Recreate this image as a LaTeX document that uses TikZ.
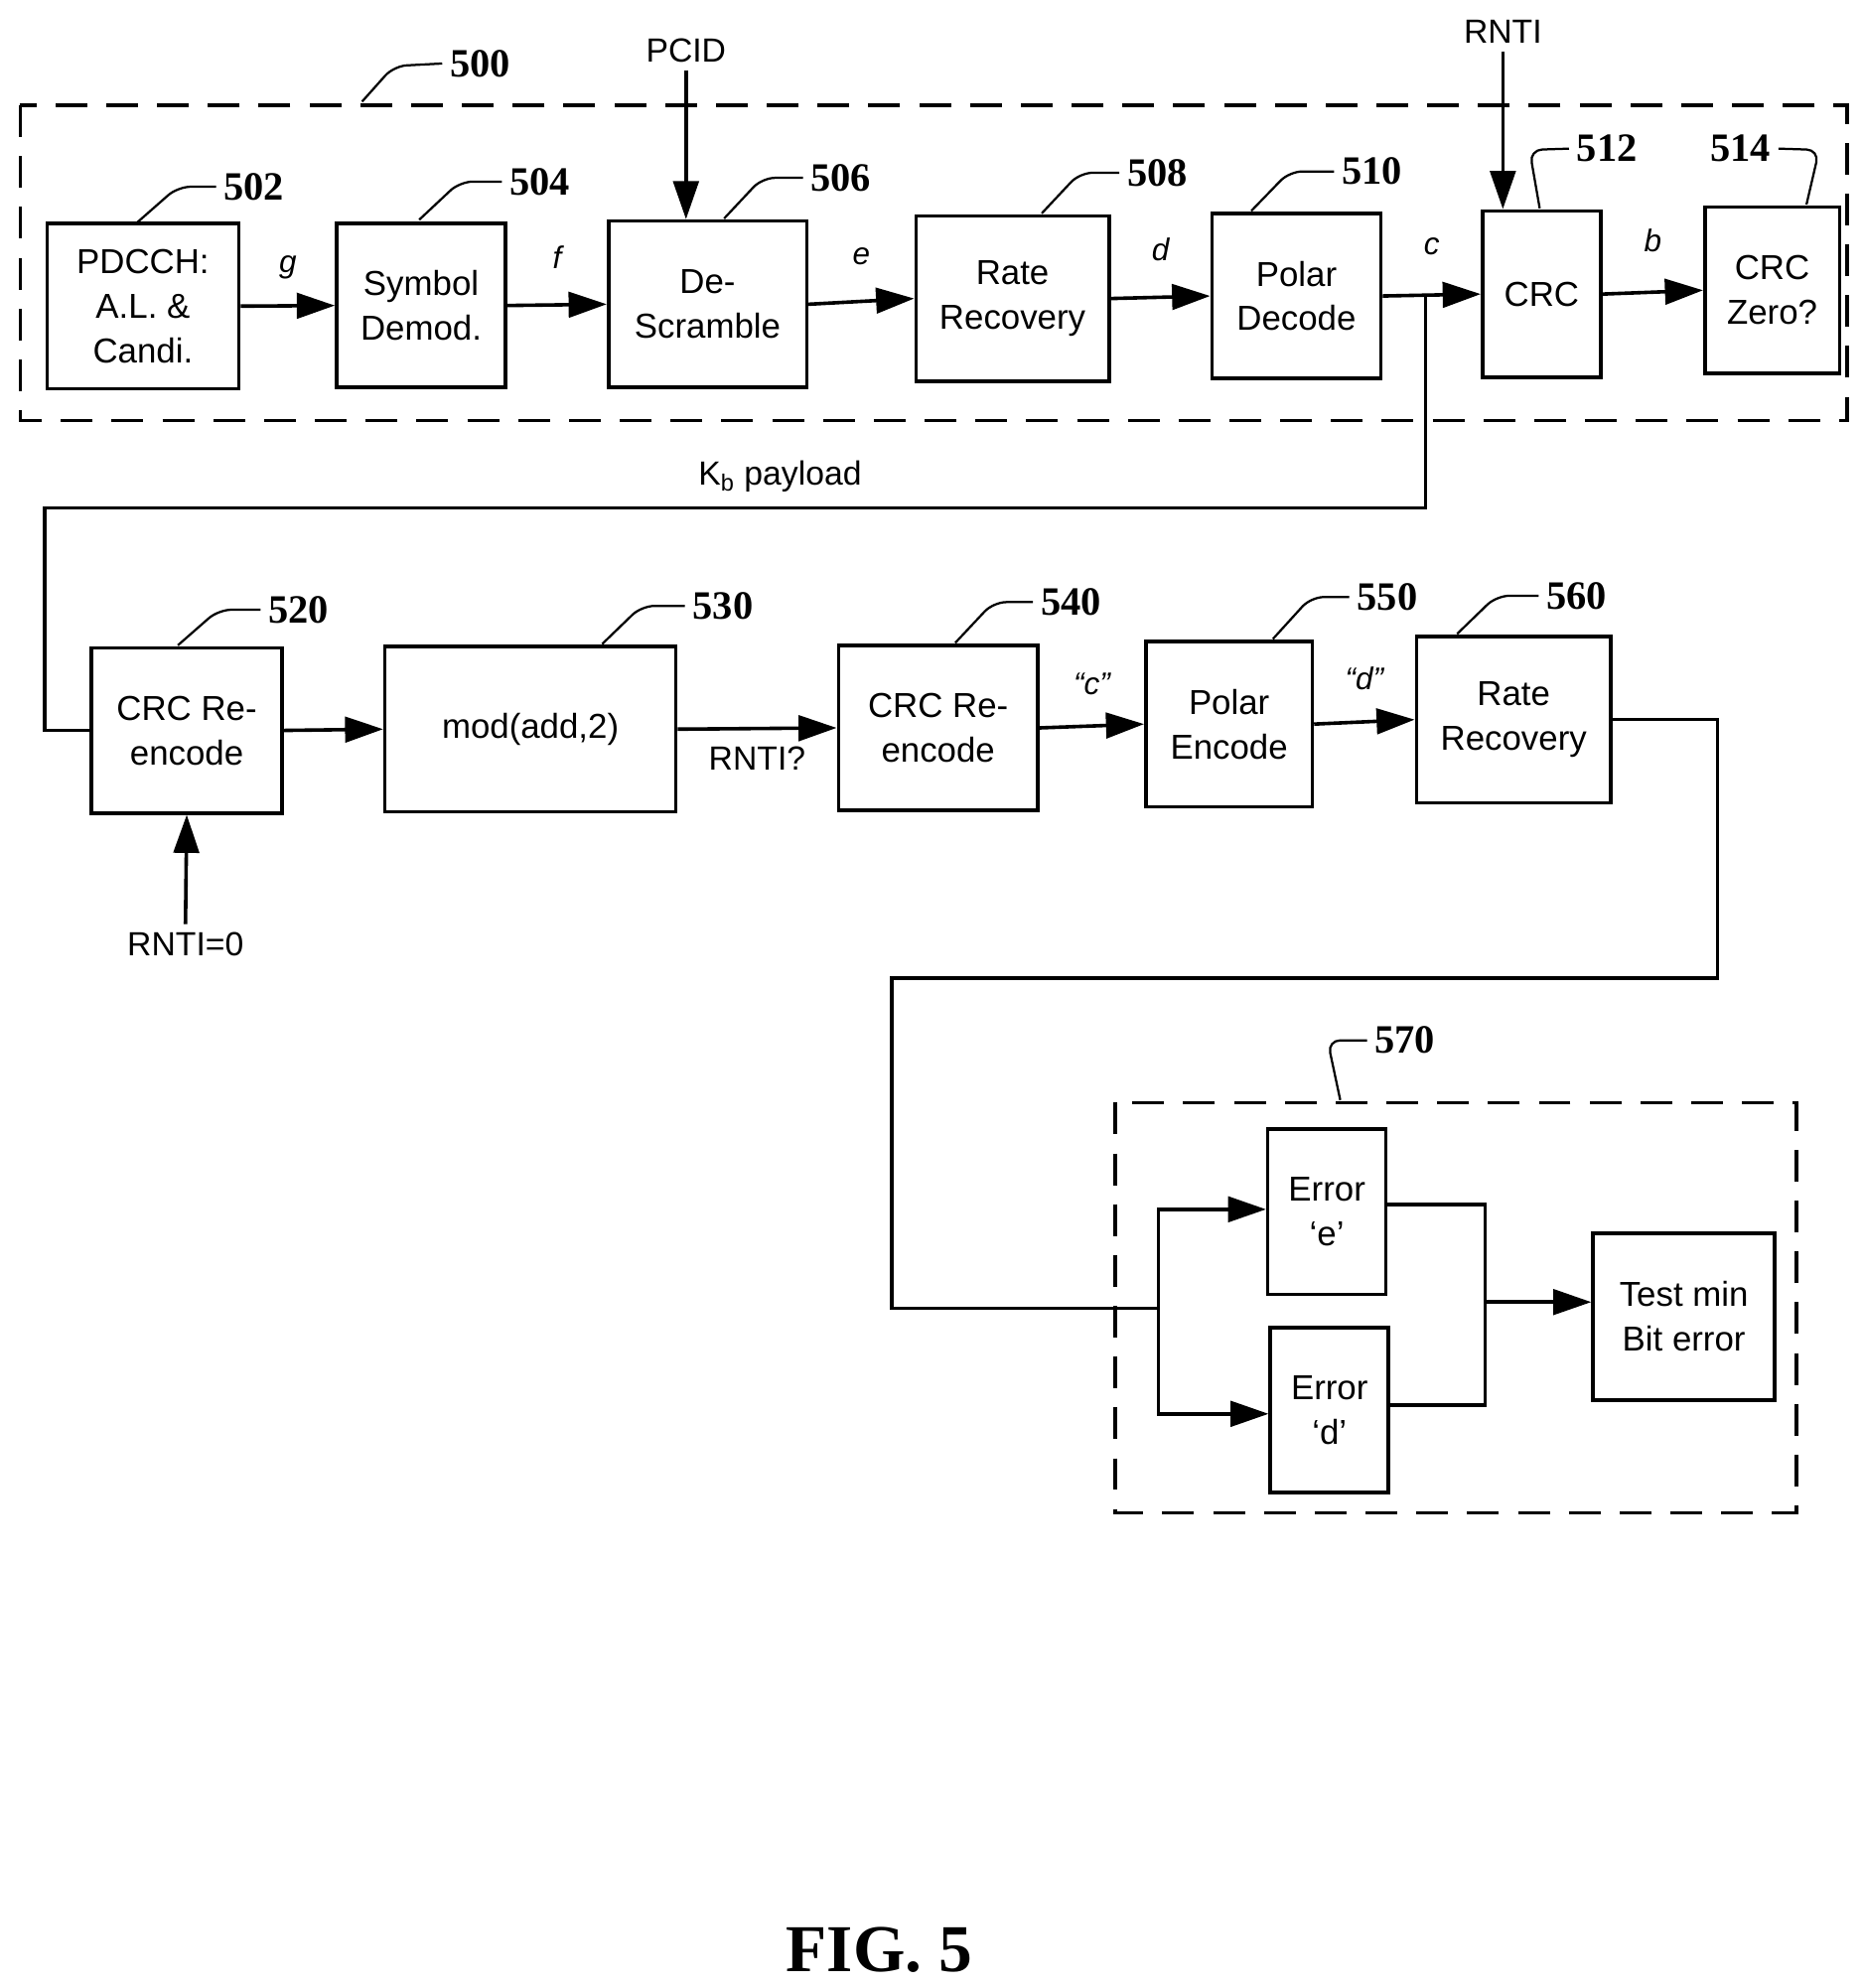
\documentclass[tikz,border=0pt]{standalone}
\usepackage{fontspec}
\setmainfont{Liberation Serif}
\setsansfont{Liberation Sans}
\usetikzlibrary{arrows.meta}
\tikzset{
  blk/.style 2 args={draw, line width=1.6pt, minimum width=#1*0.02cm, minimum height=#2*0.02cm,
    align=center, inner sep=0pt, font=\sffamily\fontsize{15.5}{20}\selectfont},
  flow/.style={line width=1.6pt, -{Triangle[length=0.6cm,width=0.4cm]}},
  wire/.style={line width=1.6pt},
  frame/.style={line width=1.6pt, dash pattern=on 0.5cm off 0.3cm},
  lead/.style={line width=1pt, rounded corners=0.2cm},
  num/.style={font=\bfseries\fontsize{18}{20}\selectfont},
  sig/.style={font=\sffamily\itshape\fontsize{14}{16}\selectfont},
  txt/.style={font=\sffamily\fontsize{15}{18}\selectfont}
}
\begin{document}
\begin{tikzpicture}[x=0.02cm, y=-0.02cm]
	\useasboundingbox (0,0) rectangle (1466,1565);
	% frames
	\draw[frame] (16,83) rectangle (1454,331);
	\draw[frame] (878,868) rectangle (1414,1191);
	% first row
	\node[blk={151}{130}] (n502) at (112.5,241) {PDCCH:\\A.L. \&\\Candi.};
	\node[blk={133}{129}] (n504) at (331.5,240.5) {Symbol\\Demod.};
	\node[blk={156}{131}] (n506) at (557,239.5) {De-\\Scramble};
	\node[blk={152}{130}] (n508) at (797,235) {Rate\\Recovery};
	\node[blk={133}{130}] (n510) at (1020.5,233) {Polar\\Decode};
	\node[blk={93}{131}] (n512) at (1213.5,231.5) {CRC};
	\node[blk={106}{131}] (n514) at (1395,228.5) {CRC\\Zero?};
	% second row
	\node[blk={150}{130}] (n520) at (147,575) {CRC Re-\\encode};
	\node[blk={229}{130}] (n530) at (417.5,574) {mod(add,2)};
	\node[blk={157}{130}] (n540) at (738.5,573) {CRC Re-\\encode};
	\node[blk={131}{130}] (n550) at (967.5,570) {Polar\\Encode};
	\node[blk={153}{131}] (n560) at (1191.5,566.5) {Rate\\Recovery};
	% block 570
	\node[blk={93}{130}] (nee) at (1044.5,954) {Error\\‘e’};
	\node[blk={93}{130}] (ned) at (1046.5,1110) {Error\\‘d’};
	\node[blk={143}{131}] (ntest) at (1325.5,1036.5) {Test min\\Bit error};
	% inputs
	\node[txt] (pcid) at (540,40) {PCID};
	\node[txt] (rnti) at (1183,25) {RNTI};
	\node[txt] (rnti0) at (146,743) {RNTI=0};
	\draw[flow] (pcid.south) -- (n506.north -| pcid);
	\draw[flow] (rnti.south) -- (n512.north -| rnti);
	\draw[flow] (rnti0.north) -- (n520.south);
	% first row connectors
	\draw[flow] (n502.east) -- node[sig, above=8pt] {g} (n504.west);
	\draw[flow] (n504.east) -- node[sig, above=12pt] {f} (n506.west);
	\draw[flow] (n506.east) -- node[sig, above=12pt] {e} (n508.west);
	\draw[flow] (n508.east) -- node[sig, above=12pt] {d} (n510.west);
	\draw[flow] (n510.east) -- node[sig, above=14pt] {c} (n512.west);
	\draw[flow] (n512.east) -- node[sig, above=14pt] {b} (n514.west);
	% payload loop back
	\coordinate (jc) at (1122,232);
	\coordinate (jl) at (35,400);
	\draw[wire] (jc) -- (1122,400) -- (jl) |- (n520.west);
	\node[txt] (kb) at (614,375) {K\textsubscript{b} payload};
	% second row connectors
	\draw[flow] (n520.east) -- (n530.west);
	\draw[flow] (n530.east) -- node[txt, below=4pt] {RNTI?} (n540.west);
	\draw[flow] (n540.east) -- node[sig, above=10pt] {“c”} (n550.west);
	\draw[flow] (n550.east) -- node[sig, above=10pt] {“d”} (n560.west);
	% into 570
	\coordinate (jt) at (912,1030);
	\draw[wire] (n560.east) -| (1352,770) -| (702,1030) -- (jt);
	\draw[flow] (jt) |- (nee.west |- 0,952);
	\draw[flow] (jt) |- (ned.west |- 0,1113);
	\coordinate (jr) at (1169,1025);
	\draw[wire] (nee.east |- 0,948) -| (jr) |- (ned.east |- 0,1106);
	\draw[flow] (jr) -- (ntest.west |- jr);
	% reference numerals
	\node[num] (l500) at (378,50) {500};
	\draw[lead] (285,80) -- (310,52) -- (l500.west);
	\node[num] (l502) at (200,147) {502};
	\draw[lead] (107,176) -- (140,147) -- (l502.west);
	\node[num] (l504) at (425,143) {504};
	\draw[lead] (330,173) -- (362,143) -- (l504.west);
	\node[num] (l506) at (662,140) {506};
	\draw[lead] (570,172) -- (600,140) -- (l506.west);
	\node[num] (l508) at (911,136) {508};
	\draw[lead] (820,168) -- (850,136) -- (l508.west);
	\node[num] (l510) at (1080,135) {510};
	\draw[lead] (985,166) -- (1015,135) -- (l510.west);
	\node[num] (l512) at (1265,117) {512};
	\draw[lead] (1212,164) -- (1204,118) -- (l512.west);
	\node[num] (l514) at (1370,117) {514};
	\draw[lead] (1422,161) -- (1432,118) -- (l514.east);
	\node[num] (l520) at (235,480) {520};
	\draw[lead] (140,508) -- (172,480) -- (l520.west);
	\node[num] (l530) at (569,477) {530};
	\draw[lead] (474,507) -- (505,477) -- (l530.west);
	\node[num] (l540) at (843,474) {540};
	\draw[lead] (752,506) -- (782,474) -- (l540.west);
	\node[num] (l550) at (1092,470) {550};
	\draw[lead] (1002,503) -- (1032,470) -- (l550.west);
	\node[num] (l560) at (1241,469) {560};
	\draw[lead] (1147,499) -- (1178,469) -- (l560.west);
	\node[num] (l570) at (1106,819) {570};
	\draw[lead] (1055,866) -- (1045,819) -- (l570.west);
	% caption
	\node[font=\bfseries\fontsize{30}{32}\selectfont] (fig) at (692,1535) {FIG. 5};
\end{tikzpicture}
\end{document}
